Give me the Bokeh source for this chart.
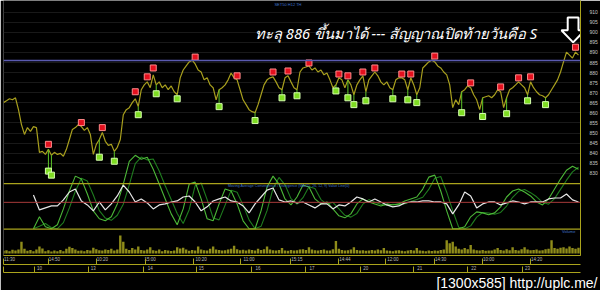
from bokeh.plotting import figure
from bokeh.models import Range1d, LinearAxis, FixedTicker, Span, Label, Title
from bokeh.embed import file_html
from bokeh.resources import INLINE

# ---------------- data ----------------
price = [865.1, 866.0, 867.0, 866.5, 867.5, 861.6, 854.2, 849.3, 852.7, 850.8,
         853.2, 852.7, 840.4, 840.9, 839.4, 841.9, 839.0, 840.4, 839.4, 839.9,
         838.5, 841.9, 846.8, 851.8, 852.7, 854.2, 853.2, 851.3, 852.7, 849.3,
         839.4, 844.4, 846.8, 850.3, 845.9, 843.9, 844.4, 840.9, 842.9, 846.8,
         859.1, 861.6, 862.6, 865.1, 867.0, 863.1, 871.5, 873.9, 875.4, 872.5,
         878.9, 873.9, 875.4, 872.5, 873.9, 871.5, 873.4, 870.5, 869.0, 877.4,
         881.3, 883.3, 885.3, 886.2, 884.3, 881.3, 880.3, 876.4, 877.4, 873.9,
         872.5, 866.5, 871.5, 872.5, 873.9, 876.4, 879.8, 877.4, 876.4, 871.5,
         866.5, 864.1, 861.6, 860.6, 860.1, 864.1, 869.0, 873.9, 876.4, 877.4,
         877.9, 875.4, 872.5, 871.5, 877.4, 878.4, 875.4, 872.5, 871.5, 880.3,
         882.3, 882.8, 883.3, 881.3, 882.3, 880.3, 881.3, 878.9, 879.8, 876.4,
         872.5, 873.9, 877.4, 876.4, 872.5, 876.4, 873.9, 869.0, 873.9, 876.4,
         878.4, 870.5, 876.4, 878.4, 880.3, 878.4, 875.4, 873.9, 875.4, 872.5,
         871.5, 876.4, 877.4, 877.4, 876.4, 871.5, 877.4, 873.9, 869.0, 872.5,
         882.3, 883.8, 885.3, 886.2, 885.3, 883.3, 882.3, 880.3, 878.9, 873.9,
         862.6, 866.5, 864.1, 870.5, 871.5, 873.4, 872.5, 869.0, 866.5, 861.6,
         867.5, 868.0, 868.5, 867.5, 869.0, 871.5, 870.5, 862.6, 867.5, 871.5,
         872.5, 873.9, 875.4, 873.9, 872.5, 869.0, 875.4, 872.5, 870.5, 869.0,
         868.5, 867.5, 869.0, 871.5, 873.9, 876.4, 880.3, 885.3, 890.2, 888.7,
         887.2, 890.2, 888.7]

sell_x = [15, 26, 33, 44, 48, 50, 64, 78, 90, 95, 102, 112, 115, 120, 124, 133,
          136, 144, 156, 166, 172, 176, 191]
sell_val = [844.4, 855.2, 852.7, 870.5, 877.9, 882.3, 887.7, 878.4, 880.3, 880.8,
            884.8, 879.3, 878.4, 880.3, 882.3, 879.3, 879.3, 888.2, 874.9, 872.9,
            877.4, 877.9, 892.6]

buy_x = [15, 16, 32, 37, 45, 51, 58, 72, 84, 93, 98, 111, 115, 117, 121, 130,
         135, 138, 153, 160, 168, 175, 181]
buy_val = [831.1, 829.1, 838.0, 836.0, 859.1, 869.5, 867.0, 863.1, 856.2, 867.5,
           868.5, 870.9, 867.5, 864.1, 866.0, 867.0, 866.5, 865.1, 860.1, 858.2,
           859.6, 866.0, 864.1]

breakout_level = 886

macd_white = [0.80, -0.82, -0.60, -0.39, -0.39, 0.26, 1.12, 1.44, 0.15, -0.28,
              -0.92, 0.04, -0.82, -0.17, 0.69, 1.87, 1.12, 0.04, 0.37, -0.06,
              -0.71, -0.28, -0.17, 0.04, 0.15, 0.58, 0.69, 0.04, -0.92, -0.49,
              0.15, 0.37, 0.58, 0.15, 0.04, -0.39, -1.14, -0.17, 0.58, 1.33,
              1.55, 0.26, 0.04, 0.15, -0.06, 0.04, -0.28, -0.60, -0.17, -0.17,
              -0.71, -0.28, -0.39, 0.04, 0.58, 0.37, 0.04, 0.37, 0.04, -0.28,
              -0.49, -0.39, -0.06, 0.04, 0.04, 0.15, 0.15, 0.04, 0.04, -0.17,
              -1.25, -0.28, 1.12, 0.69, -0.60, -0.17, 0.04, 0.04, -0.28, -0.06,
              0.15, 0.04, -0.17, 0.04, 0.04, 0.04, 0.37, 0.47, 0.47, 0.90,
              0.26, 0.04]

green_fast = [-2.86, -1.57, -2.65, -2.86, -2.43, -0.71, 1.23, 2.84, 2.52, 0.90,
              -0.92, -1.78, -2.00, -1.57, -0.17, 1.98, 4.45, 5.10, 4.67, 4.88,
              3.59, 1.98, 0.37, -1.25, -2.43, -0.71, 1.98, 2.19, 0.37, -1.78,
              -2.00, -0.17, 1.44, 1.23, -0.17, -2.00, -2.86, -2.86, -0.92, 1.66,
              2.84, 1.98, 0.37, -0.28, 0.58, 1.87, 1.66, 0.37, -0.17, 0.04,
              -0.71, -1.46, -1.68, -1.25, -0.17, 0.37, 0.04, -0.17, -0.39, -0.17,
              -0.28, -0.17, 0.15, 0.37, 0.58, 1.44, 2.73, 2.95, 1.23, -0.92,
              -2.86, -2.86, -2.65, -1.57, -1.03, -1.14, -1.35, -1.14, -0.49, 0.58,
              1.23, 1.44, 1.12, 0.69, 0.04, -0.28, 0.37, 1.44, 2.52, 3.48,
              3.91, 3.59]

green_slow = [-2.86, -2.60, -2.30, -2.75, -2.86, -2.20, -0.60, 1.20, 2.60, 2.30,
              0.80, -0.90, -1.70, -1.95, -1.40, -0.20, 1.90, 4.20, 4.90, 4.60,
              4.70, 3.40, 1.80, 0.30, -1.20, -2.30, -0.80, 1.80, 2.10, 0.30,
              -1.70, -1.90, -0.30, 1.30, 1.10, -0.30, -1.90, -2.86, -2.60, -0.90,
              1.50, 2.70, 1.90, 0.40, -0.20, 0.50, 1.70, 1.50, 0.30, -0.20,
              0.00, -0.70, -1.40, -1.60, -1.20, -0.20, 0.30, 0.00, -0.20, -0.35,
              -0.20, -0.25, -0.15, 0.10, 0.30, 0.55, 1.40, 2.60, 2.80, 1.10,
              -0.90, -2.70, -2.86, -2.55, -1.60, -1.10, -1.15, -1.30, -1.10, -0.40,
              0.55, 1.20, 1.40, 1.05, 0.60, 0.00, -0.20, 0.40, 1.40, 2.40,
              3.30, 3.80]

volume = [350, 420, 300, 480, 380, 520, 1500, 600, 350, 450,
          300, 500, 900, 650, 300, 420, 250, 380, 300, 450,
          280, 600, 850, 700, 500, 350, 400, 300, 450, 380,
          750, 550, 420, 380, 500, 450, 600, 400, 520, 2300,
          1500, 600, 450, 700, 500, 900, 450, 380, 500, 800,
          420, 350, 500, 300, 450, 380, 320, 400, 800, 650,
          750, 500, 350, 450, 380, 900, 500, 420, 380, 600,
          900, 500, 450, 380, 420, 500, 600, 1000, 550, 420,
          480, 380, 500, 450, 400, 600, 450, 550, 900, 500,
          420, 380, 450, 700, 400, 350, 450, 380, 420, 500,
          550, 450, 800, 500, 420, 380, 450, 500, 400, 380,
          550, 1600, 600, 450, 380, 420, 500, 800, 450, 380,
          420, 350, 400, 450, 380, 500, 420, 700, 400, 350,
          300, 380, 420, 350, 300, 400, 450, 380, 700, 400,
          350, 300, 380, 320, 400, 350, 450, 500, 1700, 1300,
          1500, 900, 600, 500, 700, 550, 1100, 500, 420, 380,
          450, 350, 400, 380, 500, 700, 450, 400, 550, 420,
          800, 450, 400, 550, 800, 500, 420, 450, 500, 380,
          420, 550, 600, 1700, 700, 600, 750, 800, 650, 900,
          700, 600, 750]

price_ticks = list(range(830, 911, 5))
macd_ticks = [1, 0, -1, -2]
macd_tick_labels = ["1", "0", "-1", "-2"]
macd_levels = [2.03, -2.9]
vol_ticks = [0, 800, 1600, 2400]
vol_tick_labels = ["0", "800", "1,600", "2,400"]

time_tick_idx = [2, 17, 33, 49, 66, 82, 98, 114, 130, 146, 162, 178]
time_tick_labels = ["11:30", "14:50", "10:20", "15:00", "10:20", "11:00",
                    "15:15", "14:44", "12:00", "14:30", "10:00", "14:20"]
time_sep_idx = [0, 15, 31, 47.3, 63.3, 79.3, 95.7, 111.7, 127.7, 144, 160, 176]
day_tick_idx = [12, 30, 49, 66, 85, 103, 121, 139, 157, 175]
day_tick_labels = ["10", "13", "14", "15", "16", "17", "20", "21", "22", "23"]
day_sep_idx = [0, 10.3, 28.3, 46.7, 64.3, 82.7, 101, 119.3, 137, 155, 173.3]

title_text = "ทะลุ 886 ขึ้นมาได้ --- สัญญาณปิดท้ายวันคือ S"
watermark = "[1300x585] http://uplc.me/"

# ---------------- figure ----------------
YELLOW = "#aaa41c"
BLUE_TXT = "#3f72c8"
idx = list(range(len(price)))
macd_x = list(range(10, 10 + 2 * len(macd_white), 2))
vol_x = list(range(len(volume)))

p = figure(width=600, height=290, output_backend="svg", toolbar_location=None,
           x_range=Range1d(0, 192.67), y_range=Range1d(789.2, 915.8),
           y_axis_location="right", background_fill_color="black",
           border_fill_color="black", outline_line_color=None,
           min_border_left=3, min_border_right=19, min_border_top=0,
           min_border_bottom=33)
p.extra_y_ranges = {"macd": Range1d(-5.76, 21.87), "vol": Range1d(-254, 32385)}

p.xgrid.grid_line_color = None
p.ygrid.ticker = FixedTicker(ticks=price_ticks)
p.ygrid.grid_line_color = "#191919"

# right price axis
ya = p.yaxis[0]
ya.ticker = FixedTicker(ticks=price_ticks)
ya.axis_line_color = YELLOW
ya.major_tick_line_color = None
ya.minor_tick_line_color = None
ya.major_label_text_color = "#c8c8c8"
ya.major_label_text_font_size = "5px"
ya.major_label_text_font = "Liberation Sans"
ya.major_label_standoff = 3

lab_style = dict(major_label_text_font_size="4.5px", major_label_text_color="#b8b8b8",
                 major_label_text_font="Liberation Sans", major_label_standoff=1,
                 axis_line_color=YELLOW, major_tick_line_color=None,
                 major_tick_in=0, major_tick_out=0)

xa = p.xaxis[0]
xa.ticker = FixedTicker(ticks=time_tick_idx)
xa.major_label_overrides = {t: s for t, s in zip(time_tick_idx, time_tick_labels)}
xa.minor_tick_line_color = None
for k, v in lab_style.items():
    setattr(xa, k, v)

ax2 = LinearAxis(ticker=FixedTicker(ticks=day_tick_idx, minor_ticks=time_sep_idx),
                 major_label_overrides={t: s for t, s in zip(day_tick_idx, day_tick_labels)},
                 minor_tick_line_color=YELLOW, minor_tick_in=6, minor_tick_out=0,
                 **lab_style)
p.add_layout(ax2, "below")
ax3 = LinearAxis(ticker=FixedTicker(ticks=[], minor_ticks=day_sep_idx),
                 axis_line_color=YELLOW, major_tick_line_color=None,
                 minor_tick_line_color=YELLOW, minor_tick_in=6, minor_tick_out=0,
                 major_label_text_font_size="0px")
p.add_layout(ax3, "below")
p.add_layout(Title(text=watermark, align="right", text_font="Liberation Sans",
                   text_font_size="14px", text_font_style="normal",
                   text_color="white", standoff=0, offset=-17), "below")

# ---------------- volume ----------------
p.vbar(x=vol_x, top=volume, bottom=0, width=0.8, y_range_name="vol",
       fill_color="#8f8c1a", line_color=None)

# ---------------- MACD panel ----------------
for lv in macd_levels:
    p.add_layout(Span(location=lv, dimension="width", y_range_name="macd",
                      line_color=YELLOW, line_width=1.2))
p.add_layout(Span(location=0, dimension="width", y_range_name="macd",
                  line_color="#a83a3a", line_width=1))
p.line(macd_x, green_slow, y_range_name="macd", line_color="#1f7d1f", line_width=1.1)
p.line(macd_x, green_fast, y_range_name="macd", line_color="#4cb838", line_width=1.1)
p.line(macd_x, macd_white, y_range_name="macd", line_color="#e8e8e8", line_width=1.2)

# ---------------- price panel ----------------
p.add_layout(Span(location=breakout_level, dimension="width",
                  line_color="#5a5ab0", line_width=1.5))
p.line(idx, price, line_color="#a89f1e", line_width=1.2)
p.segment(x0=buy_x, y0=buy_val, x1=buy_x, y1=[price[i] for i in buy_x],
          line_color="#5cc428", line_width=1)
p.scatter(sell_x, sell_val, marker="square", size=6, fill_color="#e4101e",
          line_color="#ff8a8a", line_width=1)
p.scatter(buy_x, buy_val, marker="square", size=6, fill_color="#7edc22",
          line_color="#d6ffae", line_width=1)

# arrow over the last sell signal
ax = sell_x[-1] - 0.8
tip = sell_val[-1] + 2.4
head = tip + 6.0
top = head + 6.4
p.patch([ax - 1.8, ax + 1.8, ax + 1.8, ax + 3.9, ax, ax - 3.9, ax - 1.8],
        [top, top, head, head, tip, head, head],
        fill_color="black", line_color="white", line_width=2)

# ---------------- texts ----------------
p.add_layout(Label(x=84, y=899.5, text=title_text, text_font="Noto Sans",
                   text_font_style="italic", text_font_size="14.6px",
                   text_color="white", text_baseline="middle"))
p.add_layout(Label(x=95, y=913.8, text="SET50 H12 TH", text_font="Liberation Sans",
                   text_font_size="4px", text_color=BLUE_TXT, text_align="center",
                   text_baseline="middle"))
p.add_layout(Label(x=75, y=1.76, y_range_name="macd",
                   text="Moving Average Convergence / Divergence (MACD, 26, 12, 9) Value Line(0)",
                   text_font="Liberation Sans", text_font_size="3.6px",
                   text_color=BLUE_TXT, text_baseline="middle"))
p.add_layout(Label(x=186.5, y=2800, y_range_name="vol", text="Volume",
                   text_font="Liberation Sans", text_font_size="4px",
                   text_color=BLUE_TXT, text_baseline="middle"))

for v, s in zip(macd_ticks, macd_tick_labels):
    p.add_layout(Label(x=193.67, y=v, y_range_name="macd", text=s,
                       text_font="Liberation Sans", text_font_size="5px",
                       text_color="#c8c8c8", text_baseline="middle"))
for v, s in zip(vol_ticks, vol_tick_labels):
    p.add_layout(Label(x=193.67, y=v, y_range_name="vol", text=s,
                       text_font="Liberation Sans", text_font_size="5px",
                       text_color="#c8c8c8", text_baseline="middle"))

# value boxes on the right scale
p.add_layout(Label(x=193.3, y=price[-1], text="%.2f" % price[-1],
                   text_font="Liberation Sans", text_font_size="5px",
                   text_color="#203020", background_fill_color="#b4f0b4",
                   text_baseline="middle"))
p.add_layout(Label(x=193.3, y=1.8, y_range_name="macd", text="1.90",
                   text_font="Liberation Sans", text_font_size="5px",
                   text_color="#303000", background_fill_color="#f0f020",
                   text_baseline="middle"))
p.add_layout(Label(x=193.3, y=-0.17, y_range_name="macd", text="%.2f" % macd_white[-1],
                   text_font="Liberation Sans", text_font_size="5px",
                   text_color="#202020", background_fill_color="#f4f4f4",
                   text_baseline="middle"))

open("out.html", "w").write(file_html(p, INLINE))
